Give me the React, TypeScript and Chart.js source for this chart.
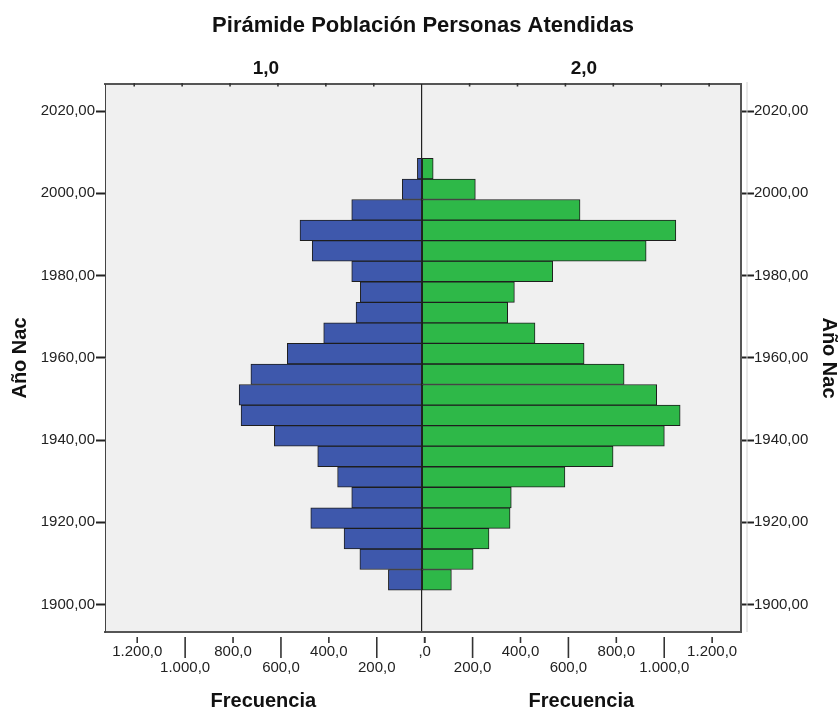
import React, { useEffect, useRef } from 'react';
import { Chart, registerables } from 'chart.js';

Chart.register(...registerables);

// ---- data ----
const binCenters = [1906, 1911, 1916, 1921, 1926, 1931, 1936, 1941, 1946, 1951, 1956, 1961, 1966, 1971, 1976, 1981, 1986, 1991, 1996, 2001, 2006];
const group1Freq = [139, 258, 324, 463, 292, 351, 434, 615, 754, 762, 713, 561, 409, 274, 256, 292, 457, 508, 292, 81, 18];
const group2Freq = [124, 215, 281, 369, 374, 598, 799, 1013, 1079, 981, 845, 678, 473, 359, 387, 547, 937, 1061, 661, 224, 48];
const yearTicks = [1900, 1920, 1940, 1960, 1980, 2000, 2020];
const freqTicks = [0, 200, 400, 600, 800, 1000, 1200];
const groupLabels = ['1,0', '2,0'];
const chartTitle = 'Pirámide Población Personas Atendidas';
const yTitle = 'Año Nac';
const xTitle = 'Frecuencia';
const yMin = 1893.3;
const yMax = 2026.6;
const leftMax = 1322;
const rightMax = 1333;

const FONT = "'Liberation Sans', Arial, Helvetica, sans-serif";

function fmtFreq(v: number): string {
  if (v === 0) return ',0';
  const th = Math.floor(v / 1000);
  const rest = v % 1000;
  return (th > 0 ? `${th}.${String(rest).padStart(3, '0')}` : String(rest)) + ',0';
}

function setFreqTicks(s: any) {
  s.ticks = freqTicks.map((value) => ({ value }));
}

function bottomAxis(max: number, reverse: boolean, showZero: boolean, centerLine: boolean) {
  return {
    type: 'linear',
    axis: 'x',
    position: 'bottom',
    stack: 'freqBottom',
    stackWeight: max,
    min: 0,
    max,
    reverse,
    bounds: 'data',
    afterBuildTicks: setFreqTicks,
    afterFit: (s: any) => {
      s.height = 78;
    },
    ticks: {
      autoSkip: false,
      maxRotation: 0,
      minRotation: 0,
      padding: 12,
      labelOffset: 3,
      color: '#222',
      font: { family: FONT, size: 15, lineHeight: '16px' },
      callback: (v: any) => {
        const val = Number(v);
        const label = val === 0 && !showZero ? '' : fmtFreq(val);
        return (val / 200) % 2 === 0 ? [label] : ['', label];
      },
    },
    grid: centerLine
      ? {
          display: true,
          drawOnChartArea: true,
          drawTicks: false,
          z: 1,
          lineWidth: 1.2,
          color: (c: any) => (c.tick && c.tick.value === 0 ? '#222' : 'rgba(0,0,0,0)'),
        }
      : { display: false, drawTicks: false },
    border: { display: true, color: '#555', width: 2, z: centerLine ? 1 : 0 },
    title: {
      display: true,
      text: xTitle,
      color: '#111',
      font: { family: FONT, size: 20, weight: 'bold', lineHeight: 0.85 },
      padding: { top: 0, bottom: 0 },
    },
  };
}

const topAxis = {
  type: 'linear',
  axis: 'x',
  position: 'top',
  min: -leftMax,
  max: rightMax,
  bounds: 'data',
  afterBuildTicks: (s: any) => {
    s.ticks = [{ value: -leftMax / 2 }, { value: rightMax / 2 }];
  },
  afterFit: (s: any) => {
    s.height = 47;
  },
  ticks: {
    autoSkip: false,
    maxRotation: 0,
    minRotation: 0,
    padding: 5.5,
    labelOffset: 2.5,
    color: '#111',
    font: { family: FONT, size: 19, weight: 'bold', lineHeight: 1 },
    callback: (_v: any, i: number) => groupLabels[i],
  },
  grid: { display: false, drawTicks: false },
  border: { display: true, color: '#555', width: 2 },
};

function yAxis(position: string, width: number, tickLength: number, padding: number, titlePad: number, borderWidth: number) {
  return {
    type: 'linear',
    axis: 'y',
    position,
    min: yMin,
    max: yMax,
    bounds: 'data',
    offset: false,
    afterBuildTicks: (s: any) => {
      s.ticks = yearTicks.map((value) => ({ value }));
    },
    afterFit: (s: any) => {
      s.width = width;
    },
    ticks: {
      autoSkip: false,
      padding,
      color: '#222',
      font: { family: FONT, size: 15 },
      callback: (v: any) => `${v},00`,
    },
    grid: {
      display: true,
      offset: false,
      drawOnChartArea: false,
      drawTicks: true,
      tickLength,
      tickColor: '#222',
      tickWidth: 2,
    },
    border: { display: true, color: borderWidth > 1 ? '#555' : '#444', width: borderWidth },
    title: {
      display: true,
      text: yTitle,
      color: '#111',
      font: { family: FONT, size: 20, weight: 'bold', lineHeight: 1 },
      padding: { top: titlePad, bottom: 0 },
    },
  };
}

const decorPlugin = {
  id: 'decor',
  beforeDraw(chart: any) {
    const { ctx, chartArea: a, width, height } = chart;
    ctx.save();
    ctx.fillStyle = '#ffffff';
    ctx.fillRect(0, 0, width, height);
    ctx.fillStyle = '#F0F0F0';
    ctx.fillRect(a.left, a.top, a.right - a.left, a.bottom - a.top);
    ctx.restore();
  },
  afterDraw(chart: any) {
    const { ctx, chartArea: a } = chart;
    ctx.save();
    ctx.strokeStyle = '#333';
    ctx.lineWidth = 1.6;
    for (const id of ['xL', 'xR']) {
      const s = chart.scales[id];
      for (const v of freqTicks) {
        const x = s.getPixelForValue(v) + 3;
        const long = (v / 200) % 2 === 1;
        ctx.beginPath();
        ctx.moveTo(x, a.bottom + 5);
        ctx.lineTo(x, a.bottom + (long ? 26 : 11));
        ctx.stroke();
      }
      for (const v of freqTicks) {
        if (v === 0) continue;
        const x = s.getPixelForValue(v);
        ctx.beginPath();
        ctx.moveTo(x, a.top - 1);
        ctx.lineTo(x, a.top + 2.5);
        ctx.stroke();
      }
    }
    ctx.strokeStyle = '#d2d2d2';
    ctx.lineWidth = 1;
    ctx.beginPath();
    ctx.moveTo(a.right + 6, a.top - 2);
    ctx.lineTo(a.right + 6, a.bottom);
    ctx.stroke();
    ctx.restore();
  },
};

export default function App() {
  const ref = useRef<HTMLCanvasElement>(null);

  useEffect(() => {
    document.body.style.margin = '0';
    const canvas = ref.current;
    if (!canvas) return;
    Chart.defaults.font.family = FONT;

    const chart = new Chart(canvas, {
      type: 'bar',
      data: {
        datasets: [
          {
            label: groupLabels[0],
            data: binCenters.map((y, i) => ({ x: group1Freq[i], y })),
            xAxisID: 'xL',
            yAxisID: 'y',
            backgroundColor: '#3E58AC',
            borderColor: '#1E1E1E',
            borderWidth: 1,
            borderSkipped: false,
            grouped: false,
            barPercentage: 1,
            categoryPercentage: 1,
          },
          {
            label: groupLabels[1],
            data: binCenters.map((y, i) => ({ x: group2Freq[i], y })),
            xAxisID: 'xR',
            yAxisID: 'y',
            backgroundColor: '#2EB848',
            borderColor: '#1E1E1E',
            borderWidth: 1,
            borderSkipped: false,
            grouped: false,
            barPercentage: 1,
            categoryPercentage: 1,
          },
        ],
      } as any,
      options: {
        indexAxis: 'y',
        responsive: false,
        animation: false,
        devicePixelRatio: 1,
        layout: { padding: 0 },
        events: [],
        plugins: {
          legend: { display: false },
          tooltip: { enabled: false },
          title: {
            display: true,
            text: chartTitle,
            fullSize: false,
            color: '#111',
            font: { family: FONT, size: 22, weight: 'bold', lineHeight: 1 },
            padding: { top: 15, bottom: 0 },
          },
        },
        scales: {
          xL: bottomAxis(leftMax, true, false, false),
          xR: bottomAxis(rightMax, false, true, true),
          xt: topAxis,
          y: yAxis('left', 105, 9, 1, 10, 1),
          y2: yAxis('right', 99, 13, 0, 1, 2),
        },
      } as any,
      plugins: [decorPlugin],
    } as any);

    return () => chart.destroy();
  }, []);

  return (
    <div style={{ position: 'absolute', left: 0, top: 0, width: 840, height: 710, background: '#fff' }}>
      <canvas ref={ref} width={840} height={710} style={{ display: 'block', width: 840, height: 710 }} />
    </div>
  );
}
